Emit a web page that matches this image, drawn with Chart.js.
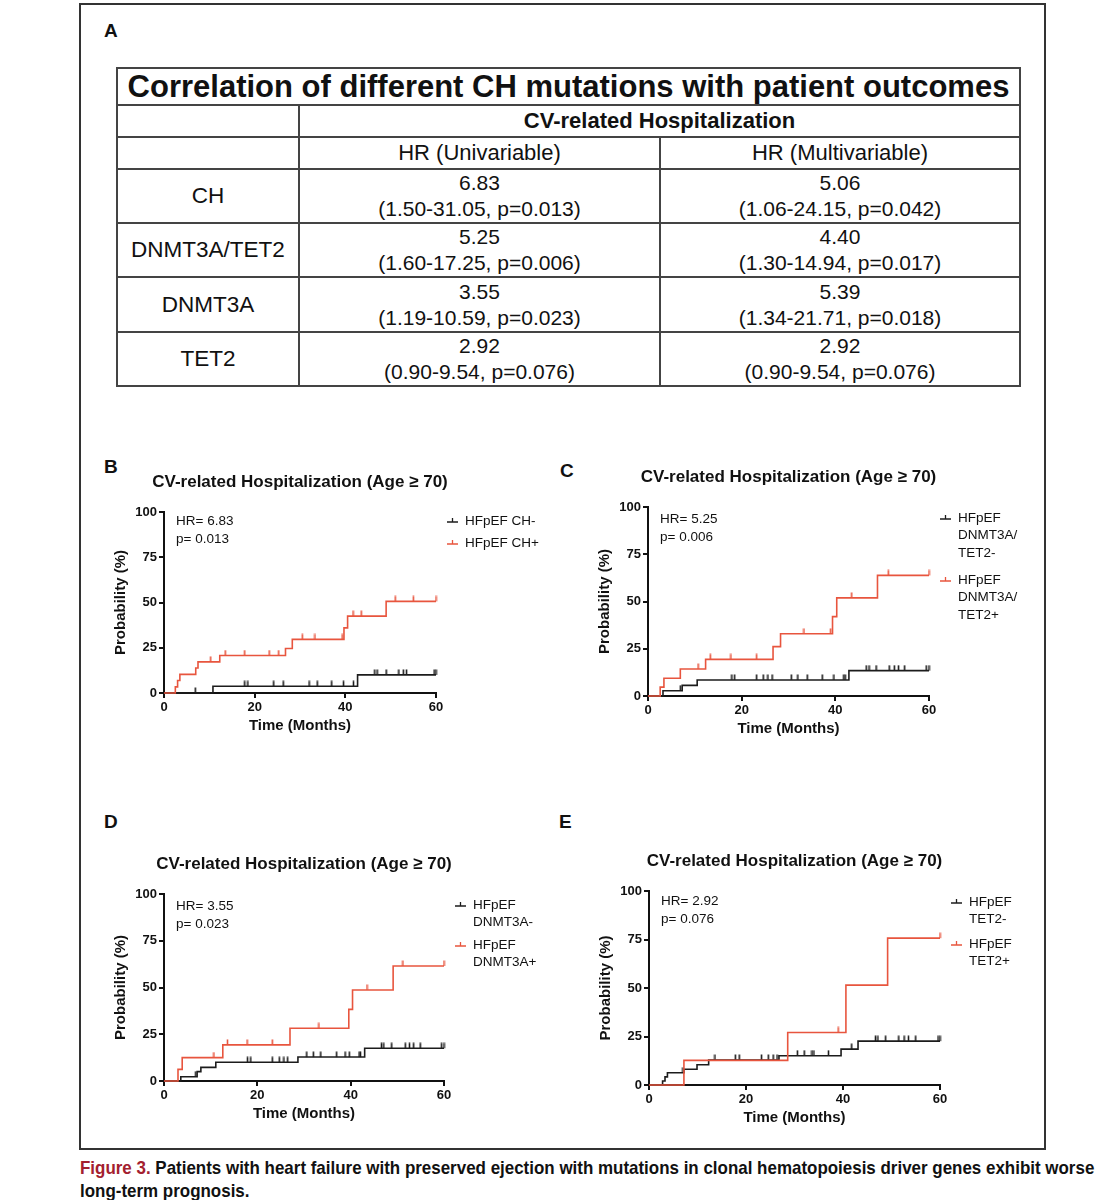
<!DOCTYPE html>
<html>
<head>
<meta charset="utf-8">
<script src="https://cdn.jsdelivr.net/npm/chart.js@4.4.1/dist/chart.umd.min.js"></script>
<style>
  body { margin: 0; background: #fff; font-family: "Liberation Sans", Arial, sans-serif; color: #111; }
  #page { position: relative; width: 1107px; height: 1200px; overflow: hidden; }
  .frame { position: absolute; left: 79px; top: 3px; width: 963px; height: 1143px; border: 2px solid #333; }
  .letter { position: absolute; font: bold 19px "Liberation Sans", Arial, sans-serif; line-height: 22px; }
  canvas { position: absolute; }
  #tbl { position: absolute; left: 116px; top: 67px; width: 903px; border-collapse: collapse; table-layout: fixed; }
  #tbl td { border: 2px solid #444; text-align: center; padding: 0; font-size: 21px; line-height: 26px; }
  #tbl td.lab { font-size: 22.5px; }
  #tbl .ttl td { font-weight: bold; font-size: 31px; height: 35px; line-height: 35px; }
  #tbl .hd td { font-size: 22px; height: 30px; line-height: 30px; }
  #tbl .hd1 td { font-weight: bold; }
  #caption { position: absolute; left: 80px; top: 1156px; width: 1400px; white-space: nowrap;
             font: bold 19px "Liberation Sans", Arial, sans-serif; line-height: 23px;
             transform: scaleX(0.892); transform-origin: 0 0; }
  #caption span { color: #a3202f; }
</style>
</head>
<body>
<div id="page">
  <div class="frame"></div>
  <div class="letter" style="left:104px;top:20px">A</div>
  <div class="letter" style="left:104px;top:456px">B</div>
  <div class="letter" style="left:560px;top:460px">C</div>
  <div class="letter" style="left:104px;top:811px">D</div>
  <div class="letter" style="left:559px;top:811px">E</div>
  <table id="tbl"></table>
  <canvas id="cB"></canvas>
  <canvas id="cC"></canvas>
  <canvas id="cD"></canvas>
  <canvas id="cE"></canvas>
  <div id="caption"><span>Figure 3.</span> Patients with heart failure with preserved ejection with mutations in clonal hematopoiesis driver genes exhibit worse<br>long-term prognosis.</div>
</div>
<script>
// ---- table A ----
var tableTitle = 'Correlation of different CH mutations with patient outcomes';
var outcome = 'CV-related Hospitalization';
var hrHeaders = ['HR (Univariable)', 'HR (Multivariable)'];
var mutations = ['CH', 'DNMT3A/TET2', 'DNMT3A', 'TET2'];
var uniHR = ['6.83', '5.25', '3.55', '2.92'];
var uniCI = ['(1.50-31.05, p=0.013)', '(1.60-17.25, p=0.006)', '(1.19-10.59, p=0.023)', '(0.90-9.54, p=0.076)'];
var multiHR = ['5.06', '4.40', '5.39', '2.92'];
var multiCI = ['(1.06-24.15, p=0.042)', '(1.30-14.94, p=0.017)', '(1.34-21.71, p=0.018)', '(0.90-9.54, p=0.076)'];

// ---- panel B: CH ----
var bNegT = [0, 10.8, 42.7, 60];
var bNegP = [0, 3.7, 10.0, 10.0];
var bNegCens = [6.9, 17.8, 18.5, 24.2, 26.3, 32.0, 33.8, 37.0, 39.6, 41.8, 46.5, 47.0, 49.0, 51.8, 52.8, 53.5, 59.6, 60];
var bPosT = [0, 2.5, 3.0, 3.5, 7.0, 7.5, 12.3, 26.8, 28.3, 39.7, 40.5, 49.0, 60];
var bPosP = [0, 3.4, 6.9, 10.3, 13.8, 17.2, 20.7, 24.6, 29.6, 36.0, 42.5, 50.6, 50.6];
var bPosCens = [10.3, 13.5, 17.8, 23.2, 25.3, 30.5, 33.3, 39.3, 41.7, 43.5, 51.0, 55.0, 60];

// ---- panel C: DNMT3A/TET2 ----
var cNegT = [0, 3.2, 7.3, 10.5, 42.9, 60];
var cNegP = [0, 2.8, 5.6, 8.5, 13.4, 13.4];
var cNegCens = [6.9, 17.9, 18.5, 23.2, 24.6, 25.6, 26.5, 30.6, 32.0, 34.0, 37.2, 39.7, 41.8, 42.1, 46.6, 47.2, 48.7, 51.5, 52.6, 53.5, 54.8, 59.4, 60];
var cPosT = [0, 2.6, 3.4, 6.9, 12.3, 26.7, 28.3, 39.4, 40.3, 49.0, 60];
var cPosP = [0, 4.7, 9.4, 14.3, 19.4, 26.1, 32.9, 42.0, 51.9, 63.8, 63.8];
var cPosCens = [10.7, 13.3, 17.7, 23.2, 33.3, 39.0, 43.5, 51.3, 60];

// ---- panel D: DNMT3A ----
var dNegT = [0, 3.6, 7.1, 7.9, 11.1, 28.7, 43.0, 60];
var dNegP = [0, 2.3, 5.0, 7.3, 10.0, 12.8, 17.5, 17.5];
var dNegCens = [6.8, 17.9, 18.6, 23.2, 24.7, 25.7, 26.5, 30.6, 32.0, 33.6, 37.0, 38.8, 39.7, 41.8, 42.1, 46.6, 47.1, 48.8, 51.7, 52.6, 53.5, 54.9, 59.5, 60];
var dPosT = [0, 3.0, 3.9, 12.6, 27.0, 39.6, 40.4, 49.1, 60];
var dPosP = [0, 6.2, 12.5, 19.3, 28.2, 38.3, 48.7, 61.5, 61.5];
var dPosCens = [10.7, 13.6, 17.8, 23.2, 33.2, 43.5, 51.2, 60];

// ---- panel E: TET2 ----
var eNegT = [0, 2.8, 3.3, 3.8, 7.2, 9.9, 12.3, 26.8, 39.6, 43.1, 60];
var eNegP = [0, 2.1, 4.2, 6.3, 8.1, 10.4, 12.9, 15.1, 18.5, 22.6, 22.6];
var eNegCens = [7.0, 13.6, 17.8, 18.6, 23.2, 24.6, 25.6, 26.4, 30.6, 32.0, 33.6, 34.0, 37.0, 41.8, 46.7, 47.2, 48.8, 51.5, 52.6, 53.5, 55.0, 59.6, 60];
var ePosT = [0, 7.2, 28.6, 40.6, 49.2, 60];
var ePosP = [0, 12.7, 27.1, 51.5, 75.7, 75.7];
var ePosCens = [39.0, 60];

var xTicks = [0, 20, 40, 60];
var yTicks = [0, 25, 50, 75, 100];

var BLACK = '#1c1c1c';
var RED = '#e8553e';
var FONT = '"Liberation Sans", Arial, sans-serif';

// build table
(function(){
    var t = document.getElementById('tbl');
    var html = '<colgroup><col style="width:182px"><col style="width:361px"><col style="width:360px"></colgroup>';
    html += '<tr class="ttl"><td colspan="3">' + tableTitle + '</td></tr>';
    html += '<tr class="hd hd1"><td></td><td colspan="2">' + outcome + '</td></tr>';
    html += '<tr class="hd"><td></td><td>' + hrHeaders[0] + '</td><td>' + hrHeaders[1] + '</td></tr>';
    var hs = [51, 52, 53, 52];
    for (var i = 0; i < mutations.length; i++) {
        html += '<tr><td class="lab" style="height:' + hs[i] + 'px">' + mutations[i] + '</td>' +
            '<td>' + uniHR[i] + '<br>' + uniCI[i] + '</td>' +
            '<td>' + multiHR[i] + '<br>' + multiCI[i] + '</td></tr>';
    }
    t.innerHTML = html;
})();

function stepAt(T, P, t) {
    var v = P[0];
    for (var i = 0; i < T.length; i++) { if (T[i] <= t) v = P[i]; }
    return v;
}
function zip(T, P) { return T.map(function(t, i){ return {x: t, y: P[i]}; }); }
function censorPts(T, P, C) { return C.map(function(t){ return {x: t, y: stepAt(T, P, t)}; }); }

// small upward tick used for censored observations
function tickImg(color) {
    var c = document.createElement('canvas');
    c.width = 3; c.height = 12;
    var g = c.getContext('2d');
    g.strokeStyle = color; g.lineWidth = 1.6;
    g.beginPath(); g.moveTo(1.5, 0.5); g.lineTo(1.5, 6); g.stroke();
    return c;
}

var kmExtras = {
    id: 'kmExtras',
    afterDraw: function(chart, args, o) {
        var ctx = chart.ctx, a = chart.chartArea;
        ctx.save();
        ctx.fillStyle = '#111';
        ctx.textBaseline = 'middle';
        ctx.font = 'bold 17px ' + FONT;
        ctx.textAlign = 'center';
        ctx.fillText(o.title, (a.left + a.right) / 2, a.top - 30);
        ctx.font = '13.5px ' + FONT;
        ctx.textAlign = 'left';
        o.note.forEach(function(s, i){ ctx.fillText(s, a.left + 12, a.top + o.noteY + i * 18); });
        o.legend.forEach(function(e, i){
            var y = a.top + o.legendY[i];
            var gx = a.right + 11;
            ctx.strokeStyle = e.color; ctx.lineWidth = 1.3;
            ctx.beginPath();
            ctx.moveTo(gx, y + 1); ctx.lineTo(gx + 11, y + 1);
            ctx.moveTo(gx + 5.5, y + 1); ctx.lineTo(gx + 5.5, y - 3);
            ctx.stroke();
            e.lines.forEach(function(s, j){ ctx.fillText(s, a.right + 29, y + j * 17.5); });
        });
        ctx.restore();
    }
};

var panels = [
    { id: 'cB', plot: [164, 512, 436, 693], neg: [bNegT, bNegP, bNegCens], pos: [bPosT, bPosP, bPosCens],
      note: ['HR= 6.83', 'p= 0.013'], noteY: 9,
      legend: [['HFpEF CH-'], ['HFpEF CH+']], legendY: [9, 31] },
    { id: 'cC', plot: [648, 507, 929, 696], neg: [cNegT, cNegP, cNegCens], pos: [cPosT, cPosP, cPosCens],
      note: ['HR= 5.25', 'p= 0.006'], noteY: 12,
      legend: [['HFpEF', 'DNMT3A/', 'TET2-'], ['HFpEF', 'DNMT3A/', 'TET2+']], legendY: [11, 73] },
    { id: 'cD', plot: [164, 894, 444, 1081], neg: [dNegT, dNegP, dNegCens], pos: [dPosT, dPosP, dPosCens],
      note: ['HR= 3.55', 'p= 0.023'], noteY: 12,
      legend: [['HFpEF', 'DNMT3A-'], ['HFpEF', 'DNMT3A+']], legendY: [11, 51] },
    { id: 'cE', plot: [649, 891, 940, 1085], neg: [eNegT, eNegP, eNegCens], pos: [ePosT, ePosP, ePosCens],
      note: ['HR= 2.92', 'p= 0.076'], noteY: 10,
      legend: [['HFpEF', 'TET2-'], ['HFpEF', 'TET2+']], legendY: [11, 53] }
];

var PAD = { left: 10, top: 57, right: 134, bottom: 7 };
var YW = 54, XH = 45;

panels.forEach(function(p){
    var el = document.getElementById(p.id);
    var x0 = p.plot[0] - PAD.left - YW, y0 = p.plot[1] - PAD.top;
    var w = p.plot[2] + PAD.right - x0, h = p.plot[3] + XH + PAD.bottom - y0;
    el.style.left = x0 + 'px'; el.style.top = y0 + 'px';
    el.width = w; el.height = h;

    new Chart(el.getContext('2d'), {
        type: 'scatter',
        data: {
            datasets: [
                { data: zip(p.pos[0], p.pos[1]), showLine: true, stepped: true, borderColor: RED, borderWidth: 1.6, pointRadius: 0, clip: 4 },
                { data: zip(p.neg[0], p.neg[1]), showLine: true, stepped: true, borderColor: BLACK, borderWidth: 1.6, pointRadius: 0, clip: 4 },
                { data: censorPts(p.pos[0], p.pos[1], p.pos[2]), pointStyle: tickImg(RED), pointRadius: 4, clip: false },
                { data: censorPts(p.neg[0], p.neg[1], p.neg[2]), pointStyle: tickImg(BLACK), pointRadius: 4, clip: false }
            ]
        },
        options: {
            responsive: false,
            animation: false,
            layout: { padding: PAD },
            plugins: {
                legend: { display: false },
                tooltip: { enabled: false },
                kmExtras: { title: 'CV-related Hospitalization (Age \u2265 70)', note: p.note, noteY: p.noteY,
                    legend: [{ lines: p.legend[0], color: BLACK }, { lines: p.legend[1], color: RED }],
                    legendY: p.legendY }
            },
            scales: {
                x: {
                    type: 'linear', min: 0, max: 60,
                    afterFit: function(s){ s.height = XH; },
                    afterBuildTicks: function(s){ s.ticks = xTicks.map(function(v){ return {value: v}; }); },
                    border: { display: true, color: '#111', width: 2 },
                    grid: { drawOnChartArea: false, drawTicks: true, tickLength: 5, color: '#111', lineWidth: 2 },
                    ticks: { color: '#111', font: { family: FONT, size: 13, weight: 'bold' }, padding: 2, maxRotation: 0 },
                    title: { display: true, text: 'Time (Months)', color: '#111', font: { family: FONT, size: 15, weight: 'bold' }, padding: { top: 2, bottom: 3 } }
                },
                y: {
                    type: 'linear', min: 0, max: 100,
                    afterFit: function(s){ s.width = YW; },
                    afterBuildTicks: function(s){ s.ticks = yTicks.map(function(v){ return {value: v}; }); },
                    border: { display: true, color: '#111', width: 2 },
                    grid: { drawOnChartArea: false, drawTicks: true, tickLength: 5, color: '#111', lineWidth: 2 },
                    ticks: { color: '#111', font: { family: FONT, size: 13, weight: 'bold' }, padding: 2 },
                    title: { display: true, text: 'Probability (%)', color: '#111', font: { family: FONT, size: 15, weight: 'bold' }, padding: { top: 2, bottom: 4 } }
                }
            }
        },
        plugins: [kmExtras]
    });
});
</script>
</body>
</html>
